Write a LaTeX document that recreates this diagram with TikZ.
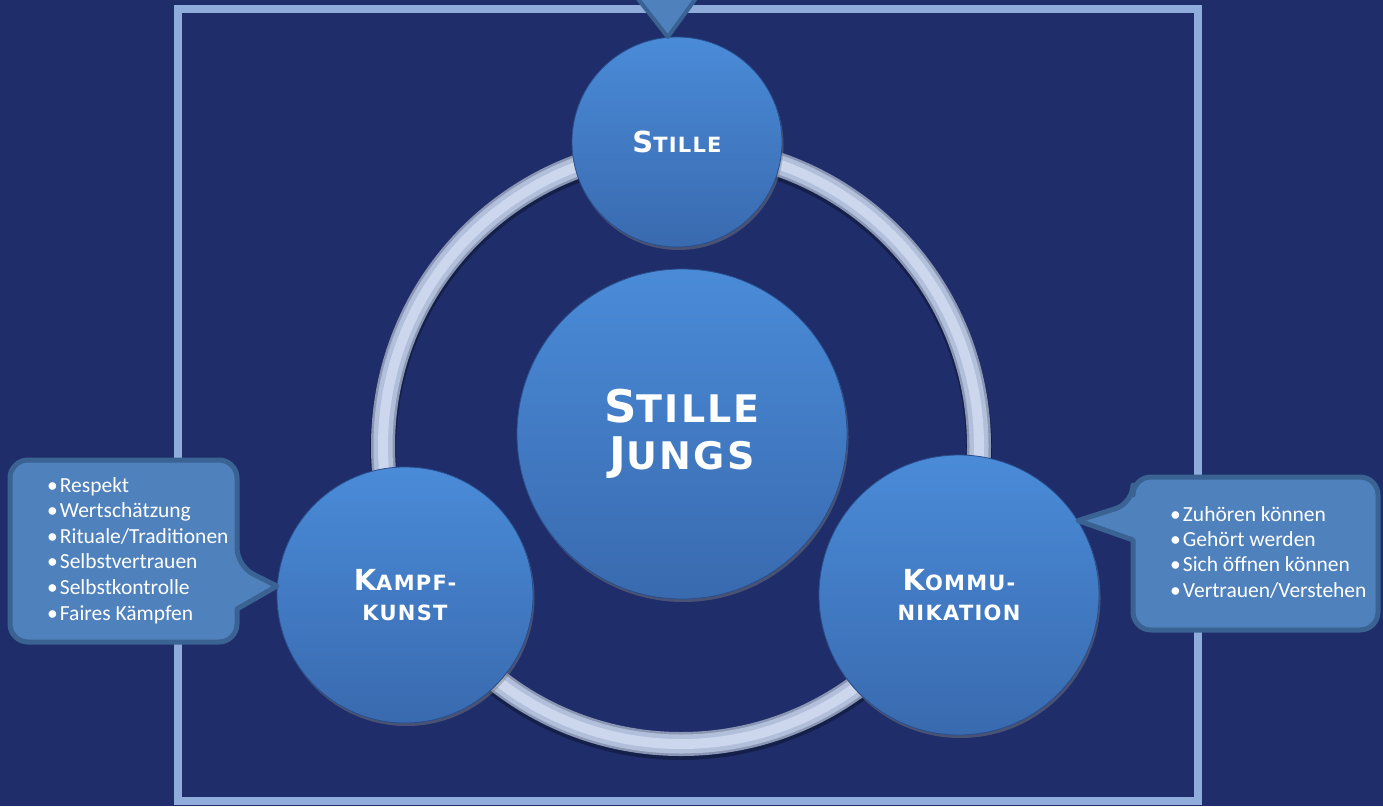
\documentclass[tikz,border=0pt]{standalone}
\usepackage{fontspec}
\setmainfont{Carlito}
\newfontfamily\headfont[LetterSpace=6]{DejaVu Sans}
\usetikzlibrary{shadows}

\definecolor{bgblue}{RGB}{31,46,107}
\definecolor{framecol}{RGB}{143,172,218}
\definecolor{balltop}{RGB}{74,139,216}
\definecolor{ballbot}{RGB}{57,106,175}
\definecolor{ballrim}{RGB}{40,78,140}
\definecolor{callfill}{RGB}{79,129,189}
\definecolor{callline}{RGB}{58,98,146}
\definecolor{ringmid}{RGB}{178,191,218}
\definecolor{ringlight}{RGB}{204,214,236}
\definecolor{ringdark}{RGB}{138,150,180}

% initial letter large, rest as small capitals
\newcommand\smallcaps[2]{{\fontsize{29}{30}\selectfont #1}{\fontsize{21}{30}\selectfont #2}}
\newcommand\bigcaps[2]{{\fontsize{45}{47}\selectfont #1}{\fontsize{38}{47}\selectfont #2}}

\tikzset{
	ball/.style={circle, inner sep=0pt, minimum size=#1, top color=balltop, bottom color=ballbot,
		draw=ballrim, line width=0.8pt, text=white, align=center,
		drop shadow={opacity=0.45, shadow xshift=1.5pt, shadow yshift=-3pt},
		font=\headfont\bfseries\fontsize{21}{30}\selectfont},
	callout/.style={fill=callfill, draw=callline, line width=5pt, line join=round},
	item/.style={text=white, inner sep=0pt, anchor=base west, font=\fontsize{21.5}{25}\selectfont}
}

\begin{document}
\begin{tikzpicture}[x=1pt, y=-1pt]
				\useasboundingbox (0,0) rectangle (1383,806);
				\clip (0,0) rectangle (1383,806);
				\fill [bgblue] (0,0) rectangle (1383,806);
				\draw [framecol, line width=8pt] (178,9) rectangle (1198,801);

				% ring
				\coordinate (ring) at (681,446);
				\draw [black, opacity=0.3, line width=26pt] ([yshift=-3pt]ring) circle [radius=298pt];
				\draw [ringdark, line width=24pt] (ring) circle [radius=298pt];
				\draw [ringmid, line width=19pt] (ring) circle [radius=298pt];
				\draw [ringlight, line width=10pt] (ring) circle [radius=298pt];

				% circles
				\node [ball=210pt] (stille) at (677,142) {\smallcaps{S}{TILLE}};
				\node [ball=330pt, font=\headfont\bfseries\fontsize{38}{47}\selectfont] (mitte) at (682,434)
					{\bigcaps{S}{TILLE}\\\bigcaps{J}{UNGS}};
				\node [ball=256pt] (kampf) at (405,595) {\smallcaps{K}{AMPF-}\\KUNST};
				\node [ball=280pt] (komm) at (959,595) {\smallcaps{K}{OMMU-}\\NIKATION};

				% callouts
				\draw [callout] (10,551) [rounded corners=18pt] |- (237,460) -- (237,566)
					[sharp corners] -- (kampf.176) -- (237,609) [rounded corners=18pt] |- (10,642) -- cycle;
				\draw [callout] (1378,553) [rounded corners=18pt] |- (1133,477) -- (1133,503)
					[sharp corners] -- (komm.32) -- (1133,540) [rounded corners=18pt] |- (1378,630) -- cycle;
				\filldraw [callout, line width=4pt] (631,-10) -- (stille.95) -- (702,-10);

				\foreach \t [count=\i] in {Respekt, Wertschätzung, Rituale/Traditionen, Selbstvertrauen, Selbstkontrolle, Faires Kämpfen}
					\node [item] (kl\i) at (47,{466.4+25.6*\i}) {\textbullet\hspace{2pt}\t};
				\foreach \t [count=\i] in {Zuhören können, Gehört werden, Sich öffnen können, Vertrauen/Verstehen}
					\node [item] (kr\i) at (1170,{495.6+25.4*\i}) {\textbullet\hspace{2pt}\t};
			\end{tikzpicture}
\end{document}
